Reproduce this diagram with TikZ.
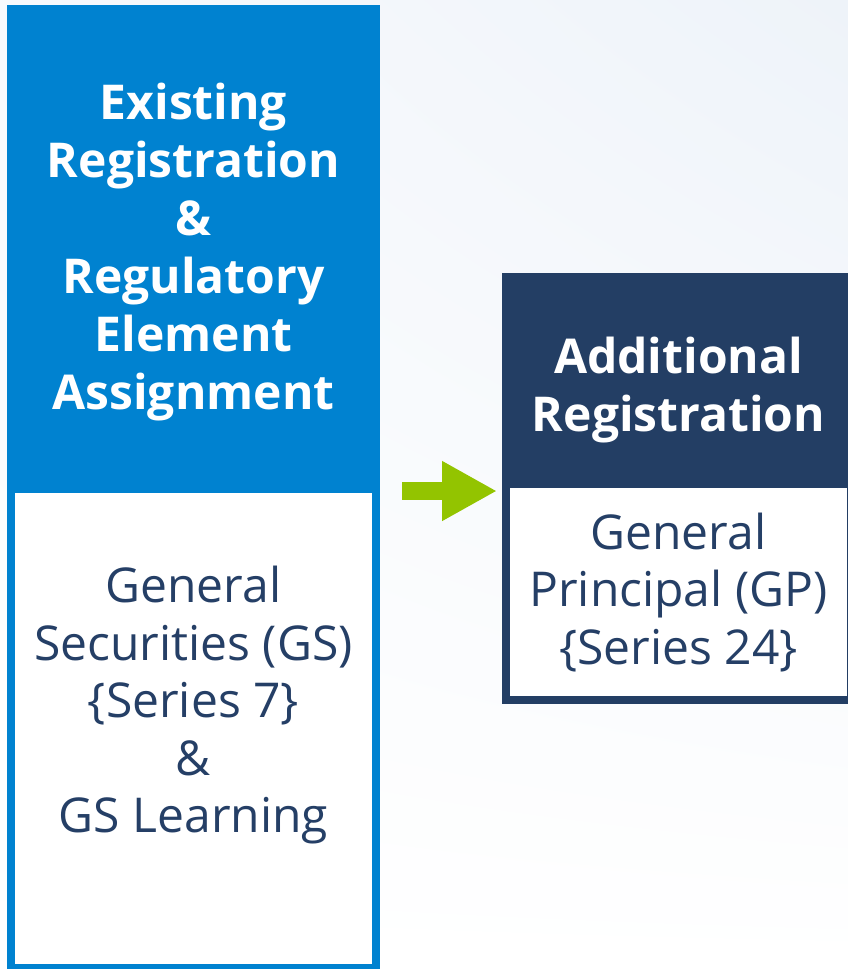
\documentclass[tikz,border=0pt]{standalone}
\usepackage{fontspec}
\setmainfont{Open Sans}
\usetikzlibrary{arrows.meta}
\usetikzlibrary{shadings}
\definecolor{regblue}{RGB}{0,130,208}
\definecolor{regnavy}{RGB}{35,62,100}
\definecolor{regtext}{RGB}{37,63,102}
\definecolor{reggreen}{RGB}{147,196,0}
\definecolor{bgtint}{RGB}{238,243,249}
\definecolor{bgsoft}{RGB}{248,250,253}
\newcommand{\stacklines}[2]{\raisebox{#1}[\height][\depth]{\begin{tabular}{@{}c@{}}#2\end{tabular}}}

\begin{document}
\begin{tikzpicture}[x=1pt,y=-1pt,line join=miter]
	\tikzstyle{head}=[rectangle,inner sep=0pt,align=center,text=white,
		font=\fontsize{48}{58}\selectfont\bfseries];
	\tikzstyle{body}=[rectangle,inner sep=0pt,align=center,fill=white,line width=8pt,
		text=regtext,font=\fontsize{48}{57.5}\selectfont];
	%% Frame
	\useasboundingbox (0,0) rectangle (848,969);
	\clip (0,0) rectangle (848,969);
	\shade[upper left=bgsoft,upper right=bgtint,lower left=white,lower right=white]
		(0,0) rectangle (848,969);
	%% Existing
	\node[head,fill=regblue,minimum width=373pt,minimum height=484pt]
		(existing) at (193.5,247)
		{\stacklines{-6pt}{Existing\\Registration\\\&\\Regulatory\\Element\\Assignment}};
	\node[body,draw=regblue,minimum width=365pt,minimum height=479pt]
		(gs) at (193.5,728.5) {General\\Securities (GS)\\\{Series 7\}\\\&\\GS Learning\\[0pt]};
	%% Additional
	\node[head,fill=regnavy,minimum width=353pt,minimum height=211pt]
		(additional) at (678.5,378.5) {\stacklines{-12pt}{Additional\\Registration}};
	\node[body,draw=regnavy,minimum width=345pt,minimum height=216pt]
		(gp) at (678.5,592) {\stacklines{-3pt}{General\\Principal (GP)\\\{Series 24\}}};
	%% Arrow
	\coordinate (tail) at (402,491);
	\coordinate (tip) at (497,491);
	\draw[reggreen,line width=18pt,-{Triangle[width=56pt,length=55pt]}] (tail) -- (tip);
\end{tikzpicture}
\end{document}
